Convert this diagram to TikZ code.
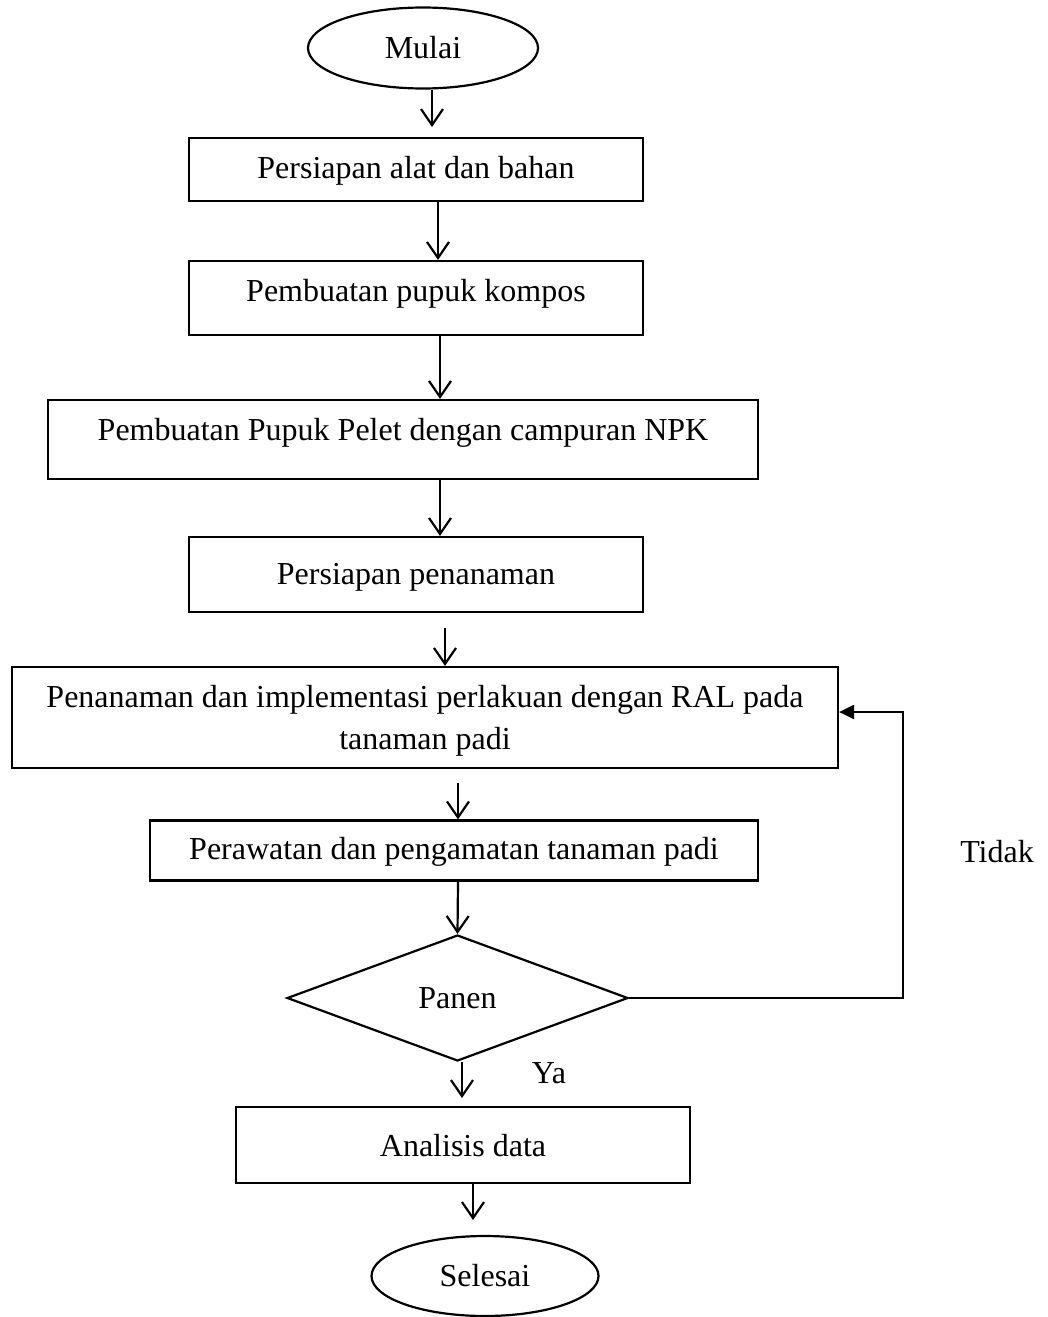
\documentclass[tikz,border=0pt]{standalone}
\usepackage{fontspec}
\setmainfont{Liberation Serif}
\usetikzlibrary{shapes.geometric,arrows.meta}
\begin{document}
\begin{tikzpicture}[x=1pt,y=-1pt,
  every node/.style={font=\fontsize{32}{42}\selectfont, inner sep=0pt},
  procbox/.style={draw, line width=2.2pt, rectangle, align=center},
  terminal/.style={draw, line width=2.2pt, ellipse},
  decision/.style={draw, line width=2.2pt, diamond, shape aspect=2.7},
  flow/.style={line width=2.2pt, -{Straight Barb[length=16pt,width=22pt,line width=2.2pt]}},
  back/.style={line width=2.2pt, -{Triangle[length=15pt,width=14pt]}}]
\useasboundingbox (0,0) rectangle (1048,1317);
\fill[white] (0,0) rectangle (1048,1317);

\node[terminal, minimum width=230pt, minimum height=81pt] (start) at (423,48) {Mulai};
\node[procbox, minimum width=454pt, minimum height=63pt] (b1) at (416,169.5) {};
\node at (416,171) (t1) {Persiapan alat dan bahan};
\node[procbox, minimum width=454pt, minimum height=74pt] (b2) at (416,298) {};
\node at (416,294) (t2) {Pembuatan pupuk kompos};
\node[procbox, minimum width=710pt, minimum height=79pt] (b3) at (403,439.5) {};
\node at (403,433) (t3) {Pembuatan Pupuk Pelet dengan campuran NPK};
\node[procbox, minimum width=454pt, minimum height=75pt] (b4) at (416,574.5) {};
\node at (416,577) (t4) {Persiapan penanaman};
\node[procbox, minimum width=826pt, minimum height=101pt] (b5) at (425,717.5) {};
\node[align=center] at (425,721) (t5) {Penanaman dan implementasi perlakuan dengan RAL pada\\tanaman padi};
\node[procbox, minimum width=608pt, minimum height=60pt] (b6) at (454,850.5) {};
\node at (454,852) (t6) {Perawatan dan pengamatan tanaman padi};
\node[decision, minimum width=341pt, minimum height=126pt] (d) at (457.5,998) {Panen};
\node[procbox, minimum width=454pt, minimum height=76pt] (b7) at (463,1145) {};
\node at (463,1146) (t7) {Analisis data};
\node[terminal, minimum width=227pt, minimum height=80pt] (end) at (485,1276) {Selesai};

\node (tidak) at (997,852) {Tidak};
\node (ya) at (549,1073) {Ya};

\coordinate (x1) at (432,0);
\coordinate (x2) at (438,0);
\coordinate (x3) at (440,0);
\coordinate (x5) at (445,0);
\coordinate (x6) at (458,0);
\coordinate (x8) at (462,0);
\coordinate (x9) at (473,0);
\coordinate (e1) at (432,127);
\coordinate (s5) at (445,628);
\coordinate (s6) at (458,783);
\coordinate (e8) at (462,1098);
\coordinate (e9) at (473,1220);
\coordinate (fb) at (903,712);

\draw[flow] (start.south -| x1) -- (e1);
\draw[flow] (b1.south -| x2) -- (b2.north -| x2);
\draw[flow] (b2.south -| x3) -- (b3.north -| x3);
\draw[flow] (b3.south -| x3) -- (b4.north -| x3);
\draw[flow] (s5) -- (b5.north -| x5);
\draw[flow] (s6) -- (b6.north -| x6);
\draw[flow] (b6.south -| x6) -- (d.north);
\draw[flow] (d.south -| x8) -- (e8);
\draw[flow] (b7.south -| x9) -- (e9);
\draw[back] (d.east) -| (fb) -- (b5.east |- fb);
\end{tikzpicture}
\end{document}
